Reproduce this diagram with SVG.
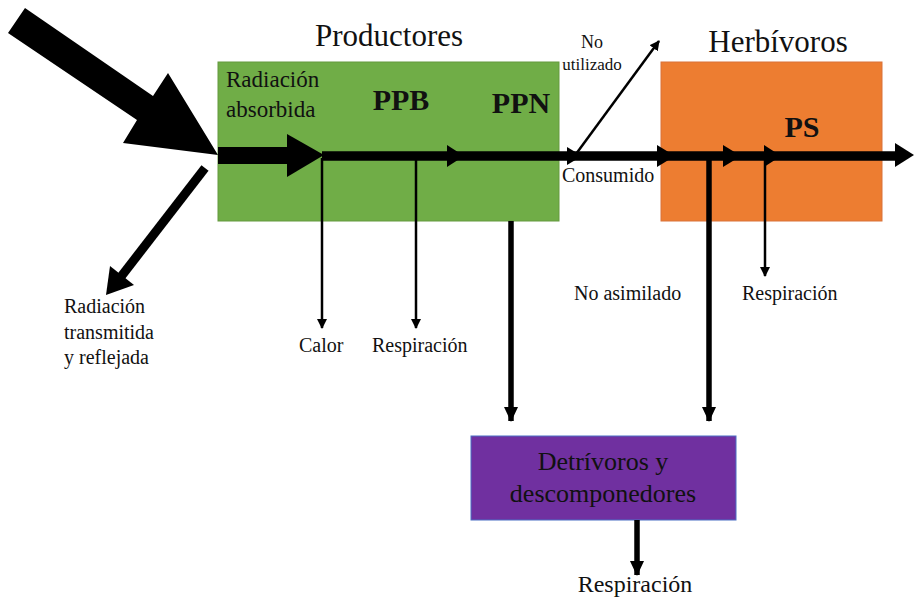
<svg xmlns="http://www.w3.org/2000/svg" width="914" height="598" viewBox="0 0 914 598">
<style>
text{font-family:"Liberation Serif","Times New Roman",serif;fill:#111}
.t20{font-size:20px}
.b30{font-size:30px;font-weight:bold}
.thin{stroke:#000;stroke-width:2.5;fill:none}
.thick{stroke:#000;stroke-width:5.5;fill:none}
.head{fill:#000}
</style>
<defs>
<marker id="ah-s" markerUnits="userSpaceOnUse" markerWidth="10" markerHeight="12" refX="9" refY="5" orient="auto"><path d="M0,0 L10,5 L0,10 z" fill="#000"/></marker>
<marker id="ah-m" markerUnits="userSpaceOnUse" markerWidth="16" markerHeight="16" refX="14" refY="7" orient="auto"><path d="M0,0 L15,7 L0,14 z" fill="#000"/></marker>
</defs>
<rect width="914" height="598" fill="#fff"/>
<g id="productores">
<rect x="218" y="62" width="341" height="159" fill="#70AD47" stroke="#64993f" stroke-width="1"/>
<text x="389" y="46" text-anchor="middle" style="font-size:31px">Productores</text>
<text x="226" y="87" style="font-size:23px">Radiación</text>
<text x="226" y="117" style="font-size:23px">absorbida</text>
<text x="401" y="110" class="b30" text-anchor="middle">PPB</text>
<text x="521" y="113" class="b30" text-anchor="middle">PPN</text>
</g>
<g id="herbivoros">
<rect x="661" y="62" width="221" height="159" fill="#ED7D31" stroke="#d9733a" stroke-width="1"/>
<text x="778" y="52" text-anchor="middle" style="font-size:31px">Herbívoros</text>
<text x="802" y="137" class="b30" text-anchor="middle">PS</text>
</g>
<g id="detritivoros">
<rect x="471" y="436" width="265" height="84" fill="#7030A0" stroke="#4a6fc4" stroke-width="1"/>
<text x="603" y="470" text-anchor="middle" style="font-size:26px">Detrívoros y</text>
<text x="603" y="502" text-anchor="middle" style="font-size:26px">descomponedores</text>
</g>
<g id="labels">
<text x="64" y="313" class="t20">Radiación</text>
<text x="64" y="339" class="t20">transmitida</text>
<text x="64" y="364" class="t20">y reflejada</text>
<text x="299" y="352" class="t20">Calor</text>
<text x="372" y="352" class="t20">Respiración</text>
<text x="592" y="48" text-anchor="middle" style="font-size:18px">No</text>
<text x="592" y="70" text-anchor="middle" style="font-size:17px">utilizado</text>
<text x="562" y="182" class="t20">Consumido</text>
<text x="574" y="300" class="t20">No asimilado</text>
<text x="742" y="300" class="t20">Respiración</text>
<text x="635" y="592" text-anchor="middle" style="font-size:24px">Respiración</text>
</g>
<g id="connectors">
<polygon class="head" points="25,8 153,96 168,73 218,155 123,143 137,120 8,33"/>
<rect x="218" y="147" width="72" height="17" fill="#000"/>
<polygon class="head" points="287,134 324,155 287,177"/>
<line x1="322" y1="156" x2="898" y2="156" stroke="#000" stroke-width="9.5"/>
<polygon class="head" points="447,145 464,156 447,167"/>
<polygon class="head" points="567,147 582,156 567,165"/>
<polygon class="head" points="657,145 675,156 657,167"/>
<polygon class="head" points="723,145 741,156 723,167"/>
<polygon class="head" points="764,145 781,156 764,167"/>
<polygon class="head" points="895,143 914,155 895,167"/>
<line x1="205" y1="168" x2="120" y2="278" stroke="#000" stroke-width="9"/>
<polygon class="head" points="106,295 110,266 134,285"/>
<line class="thin" x1="322" y1="158" x2="322" y2="328" marker-end="url(#ah-s)"/>
<line class="thin" x1="416" y1="158" x2="416" y2="328" marker-end="url(#ah-s)"/>
<line class="thick" x1="511" y1="221" x2="511" y2="421" marker-end="url(#ah-m)"/>
<line class="thick" x1="709" y1="158" x2="709" y2="421" marker-end="url(#ah-m)"/>
<line class="thin" x1="765" y1="158" x2="765" y2="276" marker-end="url(#ah-s)"/>
<line class="thick" x1="637" y1="520" x2="637" y2="575" marker-end="url(#ah-m)"/>
<line class="thin" stroke-width="3" x1="576" y1="154" x2="659" y2="41" marker-end="url(#ah-s)"/>
</g>
</svg>
